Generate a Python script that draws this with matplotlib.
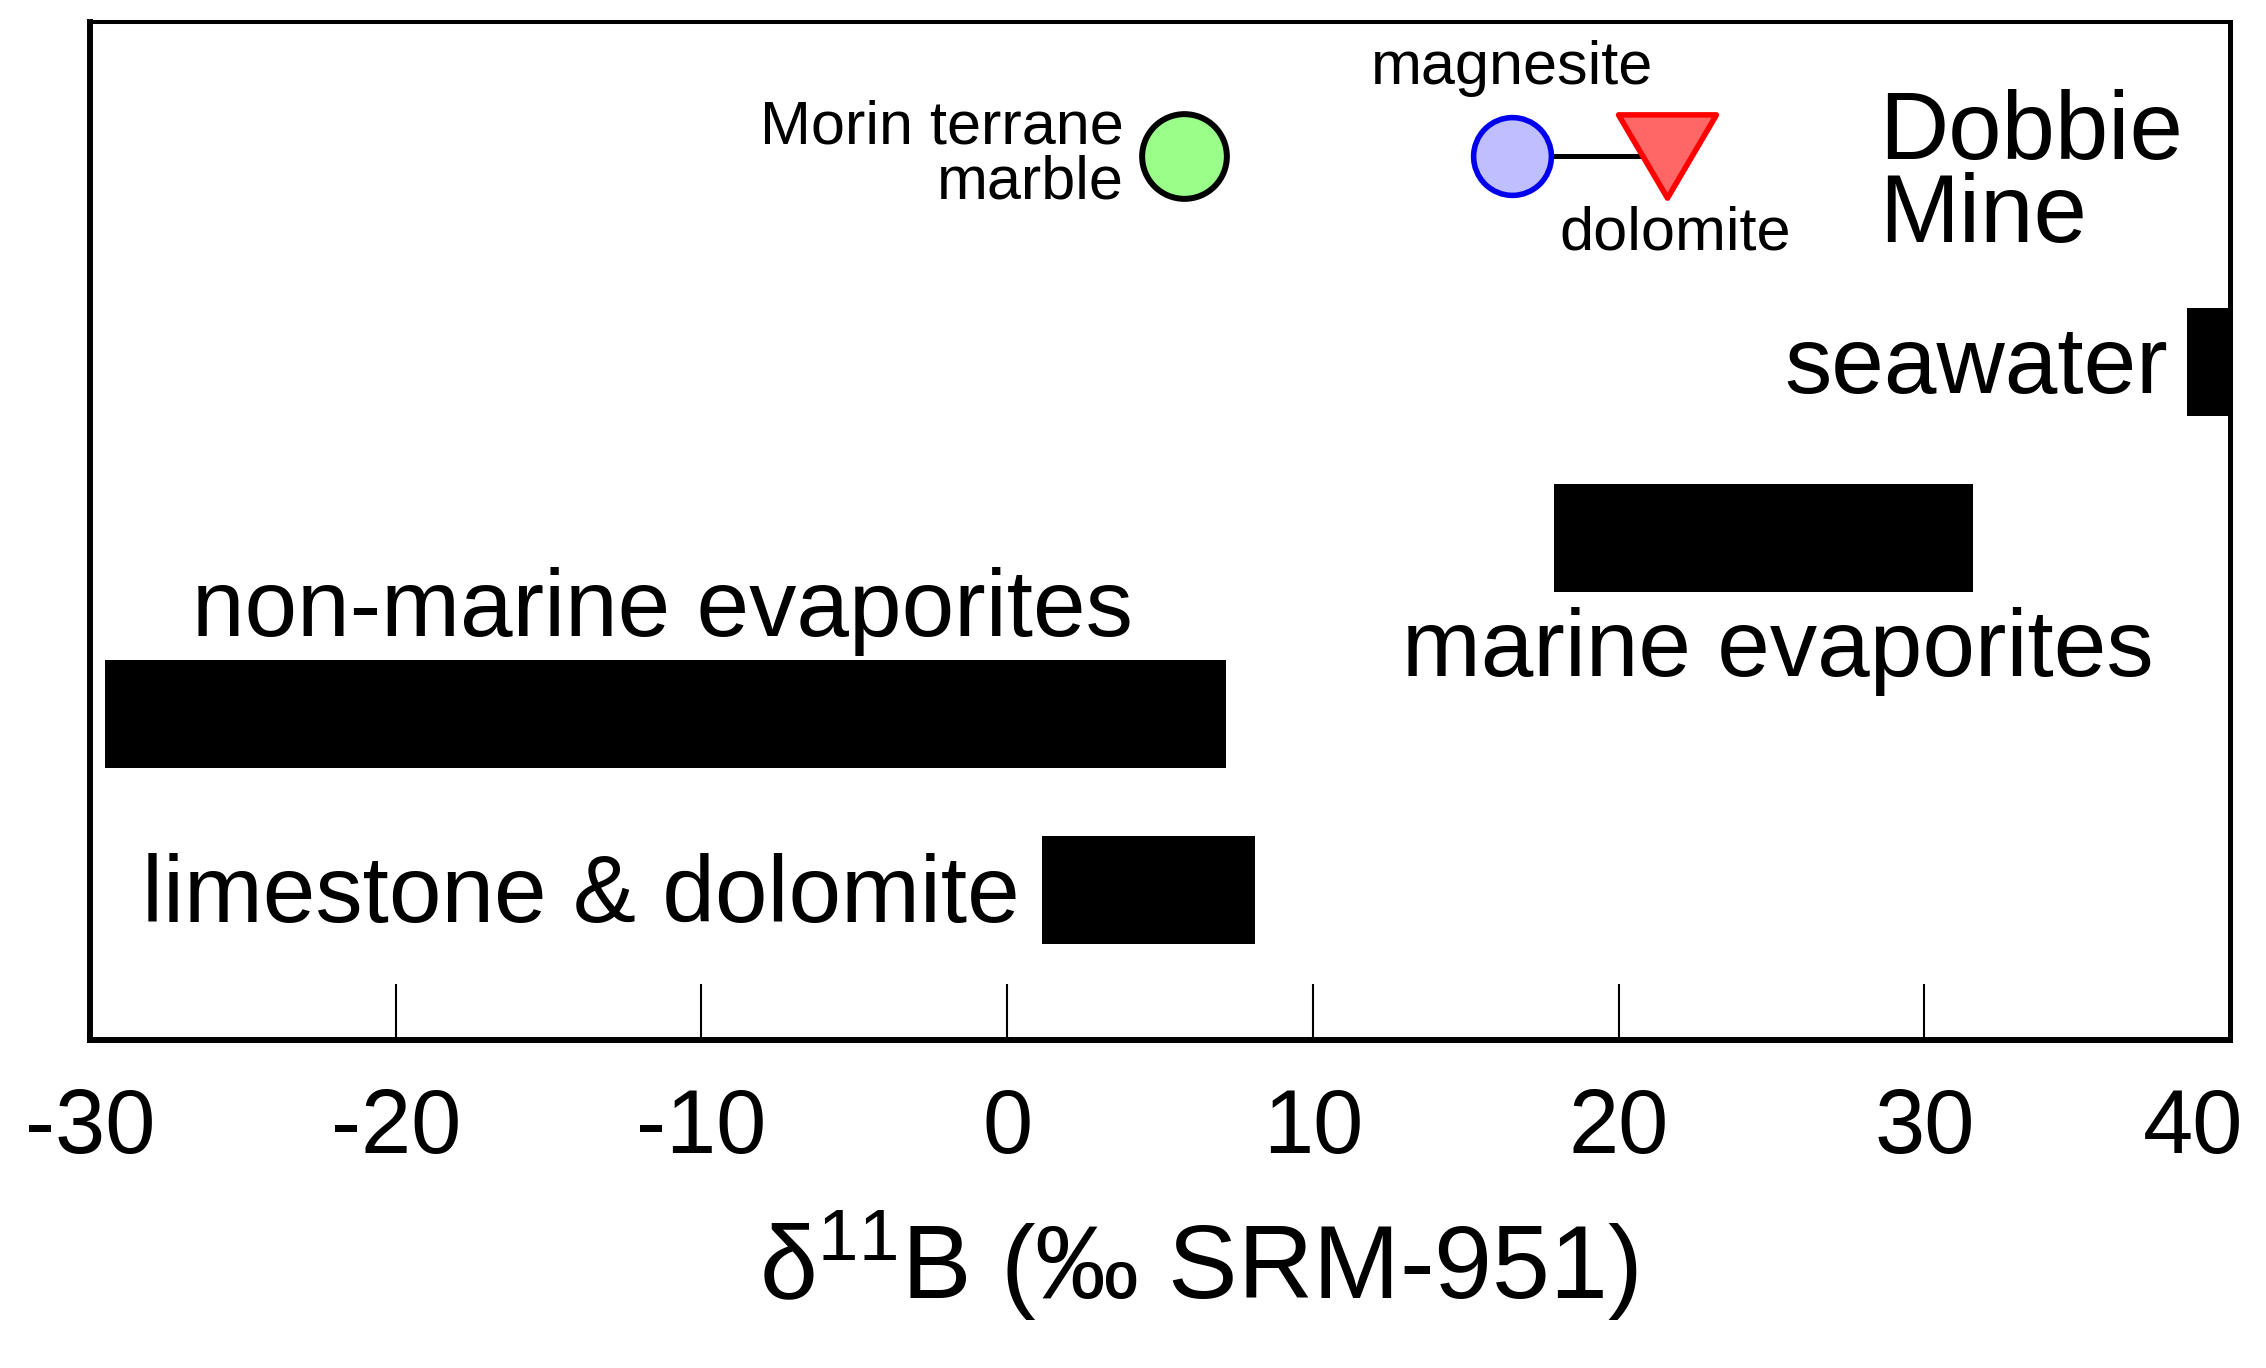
import matplotlib
matplotlib.use('Agg')
import matplotlib.pyplot as plt
import matplotlib.transforms as mtransforms
from matplotlib.path import Path

plt.rcParams['font.family'] = ['Liberation Sans', 'DejaVu Sans']
plt.rcParams['mathtext.fontset'] = 'custom'
plt.rcParams['mathtext.rm'] = 'Liberation Sans'
plt.rcParams['mathtext.it'] = 'Liberation Sans:italic'

# ---- data ----
range_labels = ['limestone & dolomite', 'non-marine evaporites', 'marine evaporites', 'seawater']
range_low = [1.15, -29.5, 17.9, 38.6]
range_high = [8.1, 7.15, 31.6, 40.0]
range_rows = [0, 1, 2, 3]

dobbie_row = 4.17
morin_x = 5.8
magnesite_x = 16.5
dolomite_x = 21.6

xticks = [-30, -20, -10, 0, 10, 20, 30, 40]
xlabel = 'δ$^{\\mathregular{11}}$B (‰ SRM-951)'

# ---- figure ----
fig = plt.figure(figsize=(22.66, 13.68), dpi=100)
ax = fig.add_axes([90/2266, 1 - 1040/1368, (2230-90)/2266, (1040-22)/1368])

widths = [h - l for l, h in zip(range_low, range_high)]
ax.barh(range_rows, widths, left=range_low, height=0.61, color='black', zorder=2)

# Dobbie Mine points
ax.plot([magnesite_x, dolomite_x], [dobbie_row, dobbie_row], color='black', lw=3.6, zorder=3)
ax.plot([morin_x], [dobbie_row], marker='o', ms=61, mfc='#99ff88', mec='black', mew=4.3, ls='none', zorder=4)
ax.plot([magnesite_x], [dobbie_row], marker='o', ms=56, mfc='#bfbfff', mec='#0000ee', mew=4.0, ls='none', zorder=4)
tri = Path([(-1, 0.85), (1, 0.85), (0, -0.85), (-1, 0.85)],
           [Path.MOVETO, Path.LINETO, Path.LINETO, Path.CLOSEPOLY])
ax.plot([dolomite_x], [dobbie_row], marker=tri, ms=70.5, mfc='#ff6666', mec='#ff0000', mew=4.0, ls='none', zorder=5)

big = 68
small = 44
ax.text(-26.66, 1.44, range_labels[1], fontsize=big, ha='left', va='baseline')
ax.text(0.4, -0.18, range_labels[0], fontsize=big, ha='right', va='baseline')
ax.text(12.92, 1.216, range_labels[2], fontsize=big, ha='left', va='baseline')
ax.text(37.97, 2.82, range_labels[3], fontsize=big, ha='right', va='baseline')
ax.text(28.52, 4.15, 'Dobbie', fontsize=69, ha='left', va='baseline')
ax.text(28.52, 3.68, 'Mine', fontsize=69, ha='left', va='baseline')
ax.text(magnesite_x, 4.58, 'magnesite', fontsize=small, ha='center', va='baseline')
ax.text(dolomite_x + 0.25, 3.64, 'dolomite', fontsize=small, ha='center', va='baseline')
ax.text(3.83, 4.24, 'Morin terrane', fontsize=small, ha='right', va='baseline')
ax.text(3.83, 3.93, 'marble', fontsize=small, ha='right', va='baseline')

ax.set_xlim(-30, 40)
ax.set_ylim(-0.852, 4.93)
ax.set_xticks(xticks)
ax.set_xticklabels([str(t) for t in xticks])
ax.set_yticks([])
ax.tick_params(axis='x', direction='in', length=40, width=1.5, pad=34, labelsize=65)
# shift the last tick label left so it fits, as in the reference
last = ax.get_xticklabels()[-1]
last.set_transform(last.get_transform() + mtransforms.ScaledTranslation(-0.37, 0, fig.dpi_scale_trans))
ax.spines['left'].set_linewidth(4.3)
ax.spines['bottom'].set_linewidth(4.3)
ax.spines['top'].set_linewidth(2.9)
ax.spines['right'].set_linewidth(3.6)
ax.set_xlabel(xlabel, fontsize=75)
ax.xaxis.set_label_coords(0.518, -0.165)

fig.savefig('out.png', dpi=100, facecolor='white')
